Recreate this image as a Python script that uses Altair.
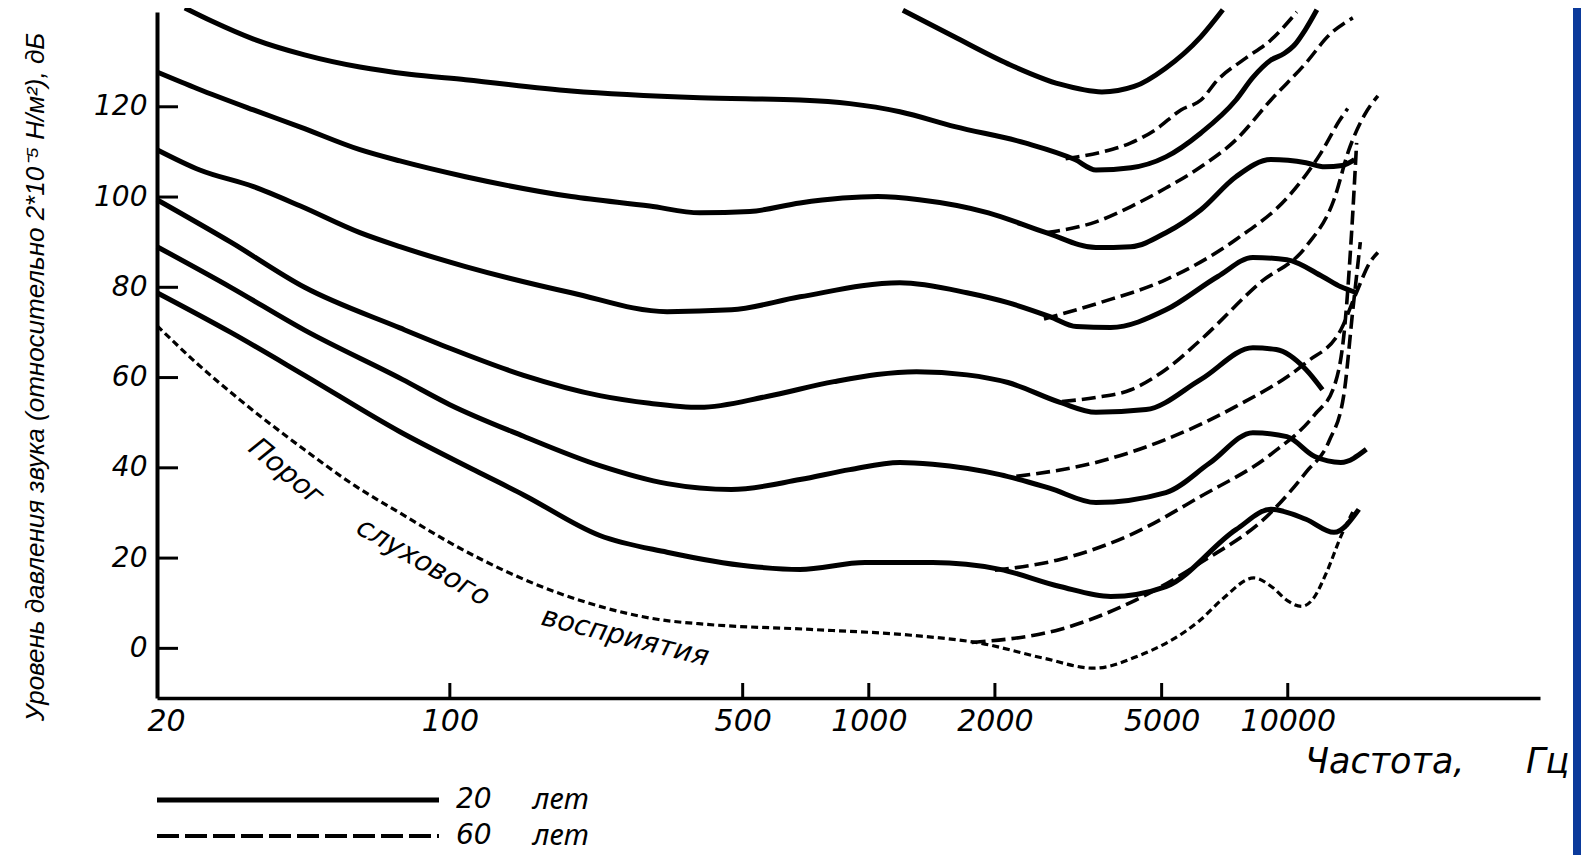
import altair as alt
import pandas as pd

X_TICKS = [20, 100, 500, 1000, 2000, 5000, 10000]
Y_TICKS = [0, 20, 40, 60, 80, 100, 120]

# ---- 20-year contours (solid) ----
A_f = [1206, 1600, 2150, 2860, 3600, 4300, 5100, 6200, 7000]
A_db = [141.4, 135.5, 129.5, 125.0, 123.3, 124.5, 128.5, 135.5, 141.5]

B_f = [23.3, 27, 34, 45, 61, 80, 109, 195, 395, 685, 901, 1186, 1605, 2359, 3105, 3485, 4224, 5118, 6205, 7523, 8256, 9100, 9800, 10400, 11000, 11737]
B_db = [141.9, 139.0, 135.0, 131.5, 128.8, 127.2, 126.0, 123.5, 122.0, 121.5, 120.7, 118.9, 115.6, 112.0, 108.3, 106.0, 106.5, 108.9, 114.2, 121.5, 126.5, 130.3, 131.8, 133.8, 137.0, 141.5]

C_f = [20, 25, 34, 44, 61, 76, 109, 195, 300, 395, 520, 685, 1050, 1320, 1930, 2650, 3485, 4224, 5118, 6205, 7523, 9115, 11050, 12250, 13500, 14430]
C_db = [127.7, 124.0, 119.3, 115.5, 110.5, 108.0, 104.5, 100.1, 98.0, 96.5, 96.8, 98.7, 100.1, 99.4, 96.5, 92.1, 88.8, 89.0, 92.1, 97.2, 104.5, 108.3, 107.6, 106.7, 107.0, 108.3]

D_f = [20, 25.3, 34, 44, 61, 76, 109, 195, 330, 470, 685, 1186, 1715, 2149, 2706, 3130, 3780, 5118, 6810, 8256, 9950, 12100, 13390, 14600]
D_db = [110.5, 106.0, 102.3, 98.0, 92.1, 89.0, 84.6, 78.8, 74.6, 75.0, 77.9, 81.0, 78.8, 76.6, 73.5, 71.3, 71.1, 75.0, 82.4, 86.6, 86.1, 82.4, 80.1, 78.8]

E_f = [20, 30, 45, 76, 100, 150, 228, 300, 395, 571, 826, 1300, 1715, 2149, 2860, 3485, 4590, 6205, 8256, 9390, 11050, 12100]
E_db = [99.4, 90.0, 80.0, 71.0, 66.5, 60.5, 56.0, 54.3, 53.4, 55.8, 59.1, 61.3, 60.6, 58.9, 54.5, 52.3, 52.9, 59.6, 66.6, 66.2, 61.8, 57.3]

F_f = [20, 30, 45, 77, 100, 150, 228, 330, 470, 685, 901, 1186, 1420, 2056, 2700, 3485, 5118, 6500, 8256, 9950, 11600, 13390, 15400]
F_db = [89.0, 80.0, 70.5, 59.6, 54.0, 47.0, 40.5, 36.5, 35.2, 37.4, 39.6, 41.2, 40.8, 38.5, 35.5, 32.3, 34.5, 41.0, 47.8, 46.9, 42.5, 41.2, 44.1]

G_f = [20, 30, 45, 76, 115, 150, 228, 330, 520, 685, 980, 1420, 2056, 2860, 3780, 5118, 7523, 9115, 11050, 12890, 14780]
G_db = [78.8, 70.0, 60.5, 48.0, 39.4, 34.0, 25.0, 21.3, 18.2, 17.5, 19.0, 19.0, 17.5, 13.7, 11.5, 13.7, 26.3, 30.8, 28.6, 25.7, 30.8]

# ---- hearing threshold (short dashes) ----
T_f = [20, 25, 31.6, 45, 59.2, 76, 103.7, 180, 315, 412, 725, 1262, 1857, 2619, 3450, 4365, 6205, 7000, 8300, 9200, 10000, 10800, 11500, 12400, 13390, 14400]
T_db = [71.5, 63.0, 55.0, 44.0, 36.1, 30.0, 22.6, 12.4, 6.4, 5.3, 4.2, 2.9, 1.1, -2.2, -4.4, -1.8, 6.4, 11.0, 15.6, 13.5, 10.5, 9.3, 11.0, 17.0, 24.8, 30.8]

# ---- 60-year contours (dashed) ----
B60_f = [2950, 3610, 4224, 4830, 5560, 6205, 6810, 7830, 9115, 10510]
B60_db = [108.5, 110.0, 112.0, 114.9, 119.3, 121.5, 126.0, 130.4, 134.8, 141.0]

C60_f = [2650, 3485, 4224, 5118, 6205, 7523, 9115, 11050, 12560, 14300]
C60_db = [92.1, 94.5, 97.9, 102.0, 106.7, 112.7, 121.5, 129.7, 135.9, 139.7]

D60_f = [2619, 3562, 5118, 7523, 10120, 11930, 13300, 13900]
D60_db = [73.0, 76.6, 81.7, 90.6, 100.5, 109.4, 117.0, 119.6]

E60_f = [2890, 3485, 4224, 5118, 6205, 8580, 11050, 12890, 14000, 15250, 16410]
E60_db = [54.7, 55.6, 57.3, 61.8, 68.4, 81.0, 89.0, 99.4, 110.5, 118.2, 122.4]

F60_f = [2250, 3485, 5118, 7523, 11050, 13390, 14520, 15750, 16410]
F60_db = [38.1, 41.2, 46.3, 53.6, 63.3, 70.6, 78.4, 85.7, 87.7]

G60_f = [2000, 2860, 4224, 6205, 9115, 11600, 12900, 13700, 14200, 14600]
G60_db = [17.3, 19.7, 25.2, 33.7, 43.0, 51.8, 58.0, 72.0, 92.0, 112.0]

T60_f = [1760, 2860, 4224, 6205, 9115, 11050, 12560, 13600, 14300, 14900]
T60_db = [1.3, 4.2, 10.2, 19.0, 30.1, 39.0, 46.0, 56.0, 75.0, 90.0]

# threshold label words
LBL_words = ["Порог", "слухового", "восприятия"]
LBL_f = [40.6, 86.3, 262]
LBL_db = [39.0, 19.0, 2.4]
LBL_angle = [40, 30, 14]

rows = []
def add(name, kind, fs, ds):
    for f, d in zip(fs, ds):
        rows.append({"curve": name, "kind": kind, "f": f, "db": d})

for nm, fs, ds in [("A", A_f, A_db), ("B", B_f, B_db), ("C", C_f, C_db), ("D", D_f, D_db),
                   ("E", E_f, E_db), ("F", F_f, F_db), ("G", G_f, G_db)]:
    add(nm, "20", fs, ds)
for nm, fs, ds in [("B60", B60_f, B60_db), ("C60", C60_f, C60_db), ("D60", D60_f, D60_db),
                   ("E60", E60_f, E60_db), ("F60", F60_f, F60_db), ("G60", G60_f, G60_db),
                   ("T60", T60_f, T60_db)]:
    add(nm, "60", fs, ds)
add("T", "thr", T_f, T_db)
df = pd.DataFrame(rows)

W, H = 1383, 686
NUMFONT = "DejaVu Sans"
TXTFONT = "Noto Sans"

xs = alt.Scale(type="log", domain=[20, 40000], nice=False)
ys = alt.Scale(domain=[-11, 141], nice=False, zero=False)
x_axis = alt.Axis(values=X_TICKS, format="d", ticks=False, grid=False, domainColor="black",
                  domainWidth=3.5, labelFont=NUMFONT, labelFontStyle="italic", labelFontSize=30,
                  labelColor="black", labelPadding=8, labelFlush=True, labelFlushOffset=10,
                  labelOverlap=False, title=None)
y_axis = alt.Axis(values=Y_TICKS, format="d", ticks=False, grid=False, domainColor="black",
                  domainWidth=4, labelFont=NUMFONT, labelFontStyle="italic", labelFontSize=28,
                  labelColor="black", labelPadding=10, labelOverlap=False, title=None)

def X(field="f"):
    return alt.X(f"{field}:Q", scale=xs, axis=x_axis)

def Y(field="db"):
    return alt.Y(f"{field}:Q", scale=ys, axis=y_axis)

base = alt.Chart(df)
solid = base.transform_filter(alt.datum.kind == "20").mark_line(
    color="black", strokeWidth=5, interpolate="monotone").encode(x=X(), y=Y(), detail="curve:N")
dashed = base.transform_filter(alt.datum.kind == "60").mark_line(
    color="black", strokeWidth=3.6, strokeDash=[14, 6], interpolate="monotone").encode(
    x=X(), y=Y(), detail="curve:N")
thr = base.transform_filter(alt.datum.kind == "thr").mark_line(
    color="black", strokeWidth=3.2, strokeDash=[7, 4], interpolate="monotone").encode(
    x=X(), y=Y(), detail="curve:N")

yt = alt.Chart(pd.DataFrame({"db": Y_TICKS})).mark_rule(color="black", strokeWidth=3).encode(
    y=Y(), x=alt.value(0), x2=alt.value(21))
xt = alt.Chart(pd.DataFrame({"f": X_TICKS[1:]})).mark_rule(color="black", strokeWidth=3).encode(
    x=X(), y=alt.value(H), y2=alt.value(H - 15))

layers = [solid, dashed, thr, yt, xt]

for w, f, d, a in zip(LBL_words, LBL_f, LBL_db, LBL_angle):
    layers.append(alt.Chart(pd.DataFrame({"t": [w], "f": [f], "db": [d]})).mark_text(
        font=NUMFONT, fontStyle="italic", fontSize=28, angle=a, align="center",
        baseline="middle", color="black").encode(x=X(), y=Y(), text="t:N"))

def txt(t, x, y, size, font=TXTFONT, angle=0, align="left", baseline="middle"):
    kw = dict(font=font, fontStyle="italic", fontSize=size, align=align, baseline=baseline, color="black")
    if angle:
        kw["angle"] = angle
    return alt.Chart(pd.DataFrame({"t": [t]})).mark_text(**kw).encode(
        x=alt.value(x), y=alt.value(y), text="t:N")

# axis titles
layers.append(txt("Уровень давления звука (относительно 2*10⁻⁵ Н/м²), дБ", -121, 365, 26,
                  font="Liberation Sans", angle=270, align="center"))
layers.append(txt("Частота,", 1148, 761, 35, font=NUMFONT, baseline="alphabetic"))
layers.append(txt("Гц", 1369, 761, 35, font=NUMFONT, baseline="alphabetic"))

# legend
layers.append(alt.Chart(pd.DataFrame({"k": [1]})).mark_rule(color="black", strokeWidth=5).encode(
    x=alt.value(0), x2=alt.value(282), y=alt.value(788)))
layers.append(alt.Chart(pd.DataFrame({"k": [1]})).mark_rule(color="black", strokeWidth=4, strokeDash=[22, 6]).encode(
    x=alt.value(0), x2=alt.value(282), y=alt.value(824)))
layers.append(txt("20", 299, 788, 28, font=NUMFONT))
layers.append(txt("лет", 376, 788, 29))
layers.append(txt("60", 299, 824, 28, font=NUMFONT))
layers.append(txt("лет", 376, 824, 29))

# slide border strip on the right
layers.append(alt.Chart(pd.DataFrame({"k": [1]})).mark_rect(color="#0b3a9b").encode(
    x=alt.value(1416), x2=alt.value(1424), y=alt.value(-4), y2=alt.value(843)))

chart = alt.layer(*layers).properties(
    width=W, height=H,
    autosize=alt.AutoSizeParams(type="none"),
    padding={"left": 149, "top": 4, "right": 41, "bottom": 157},
    background="white",
).configure_view(stroke=None)

chart.save("out.html", embed_options={"renderer": "svg", "actions": False})
